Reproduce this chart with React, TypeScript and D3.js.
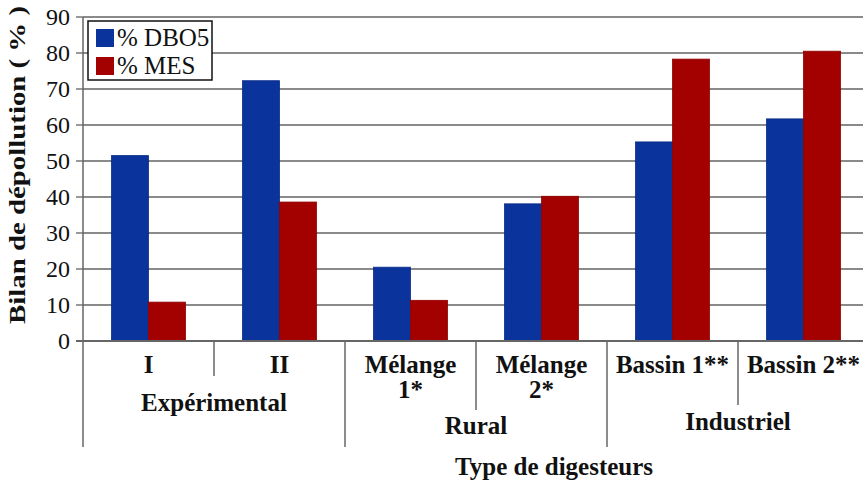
import React from 'react';
import * as d3 from 'd3';

const categories = ['I', 'II', 'Mélange 1*', 'Mélange 2*', 'Bassin 1**', 'Bassin 2**'];
const categoryLines = [['I'], ['II'], ['Mélange', '1*'], ['Mélange', '2*'], ['Bassin 1**'], ['Bassin 2**']];
const series = ['% DBO5', '% MES'];
const dbo5 = [51.5, 72.3, 20.5, 38.1, 55.3, 61.7];
const mes = [10.8, 38.6, 11.3, 40.2, 78.3, 80.5];
const groups = [
  { name: 'Expérimental', from: 0, to: 1 },
  { name: 'Rural', from: 2, to: 3 },
  { name: 'Industriel', from: 4, to: 5 },
];
const yTicks = [0, 10, 20, 30, 40, 50, 60, 70, 80, 90];

const colors = ['#0a339c', '#a30000'];
const font = 'Liberation Serif';

const App = () => {
  const width = 863;
  const height = 482;
  const left = 83;
  const right = 869;
  const top = 17;
  const bottom = 341;

  const x = d3.scaleBand().domain(categories).range([left, right]).padding(0);
  const xs = d3.scaleBand().domain(series).range([0, x.bandwidth()]).paddingInner(0).paddingOuter(0.77);
  const y = d3.scaleLinear().domain([0, 90]).range([bottom, top]);

  const values = [dbo5, mes];
  // depth of inner separators between categories of a group
  const innerDepth = [376, 410, 405];
  const groupLabelY = [411, 434, 430];

  return (
    <svg width={width} height={height} style={{ position: 'absolute', left: 0, top: 0, background: '#fff' }}>
      {/* grid */}
      {yTicks.map(t => (
        <g key={t}>
          {t > 0 && <line x1={left} x2={width} y1={y(t)} y2={y(t)} stroke="#8a8a8a" strokeWidth={2} />}
          <line x1={left - 7} x2={left} y1={y(t)} y2={y(t)} stroke="#777" strokeWidth={1.5} />
          <text x={left - 13} y={y(t)} dy="0.35em" textAnchor="end" fontFamily={font} fontSize={24} fill="#111">{t}</text>
        </g>
      ))}

      {/* bars */}
      {categories.map((c, i) => (
        <g key={c} transform={`translate(${x(c)},0)`}>
          {series.map((s, j) => (
            <rect key={s} x={xs(s)} y={y(values[j][i])} width={xs.bandwidth()} height={bottom - y(values[j][i])}
              fill={colors[j]} stroke={j === 0 ? '#082c85' : '#8e0000'} strokeWidth={0.8} />
          ))}
        </g>
      ))}

      {/* axes */}
      <line x1={left} x2={left} y1={top} y2={447} stroke="#666" strokeWidth={1.5} />
      <line x1={left - 7} x2={width} y1={bottom} y2={bottom} stroke="#666" strokeWidth={2} />

      {/* group separators */}
      {groups.map((g, gi) => {
        const x0 = x(categories[g.from]) as number;
        const x1 = (x(categories[g.to]) as number) + x.bandwidth();
        const mid = x(categories[g.to]) as number;
        return (
          <g key={g.name}>
            {gi > 0 && <line x1={x0} x2={x0} y1={bottom} y2={447} stroke="#666" strokeWidth={1.5} />}
            <line x1={mid} x2={mid} y1={bottom} y2={innerDepth[gi]} stroke="#666" strokeWidth={1.5} />
            <text x={(x0 + x1) / 2} y={groupLabelY[gi]} textAnchor="middle" fontFamily={font} fontWeight="bold" fontSize={25} fill="#111">{g.name}</text>
          </g>
        );
      })}

      {/* category labels */}
      {categories.map((c, i) => (
        <text key={c} x={(x(c) as number) + x.bandwidth() / 2} y={373} textAnchor="middle" fontFamily={font} fontWeight="bold" fontSize={25} fill="#111">
          {categoryLines[i].map((l, k) => (
            <tspan key={k} x={(x(c) as number) + x.bandwidth() / 2} dy={k === 0 ? 0 : 25}>{l}</tspan>
          ))}
        </text>
      ))}

      {/* axis titles */}
      <text x={554} y={475} textAnchor="middle" fontFamily={font} fontWeight="bold" fontSize={25} fill="#111">Type de digesteurs</text>
      <text transform="translate(25,165) rotate(-90)" textAnchor="middle" textLength={318} lengthAdjust="spacingAndGlyphs"
        fontFamily={font} fontWeight="bold" fontSize={23} fill="#111">Bilan de dépollution ( % )</text>

      {/* legend */}
      <g>
        <rect x={88} y={21} width={124} height={59} fill="#fff" stroke="#111" strokeWidth={1.5} />
        {series.map((s, j) => (
          <g key={s} transform={`translate(96,${29 + j * 28})`}>
            <rect width={18} height={18} fill={colors[j]} />
            <text x={21} y={17} fontFamily={font} fontSize={25} fill="#111">{s}</text>
          </g>
        ))}
      </g>
    </svg>
  );
};

export default App;
